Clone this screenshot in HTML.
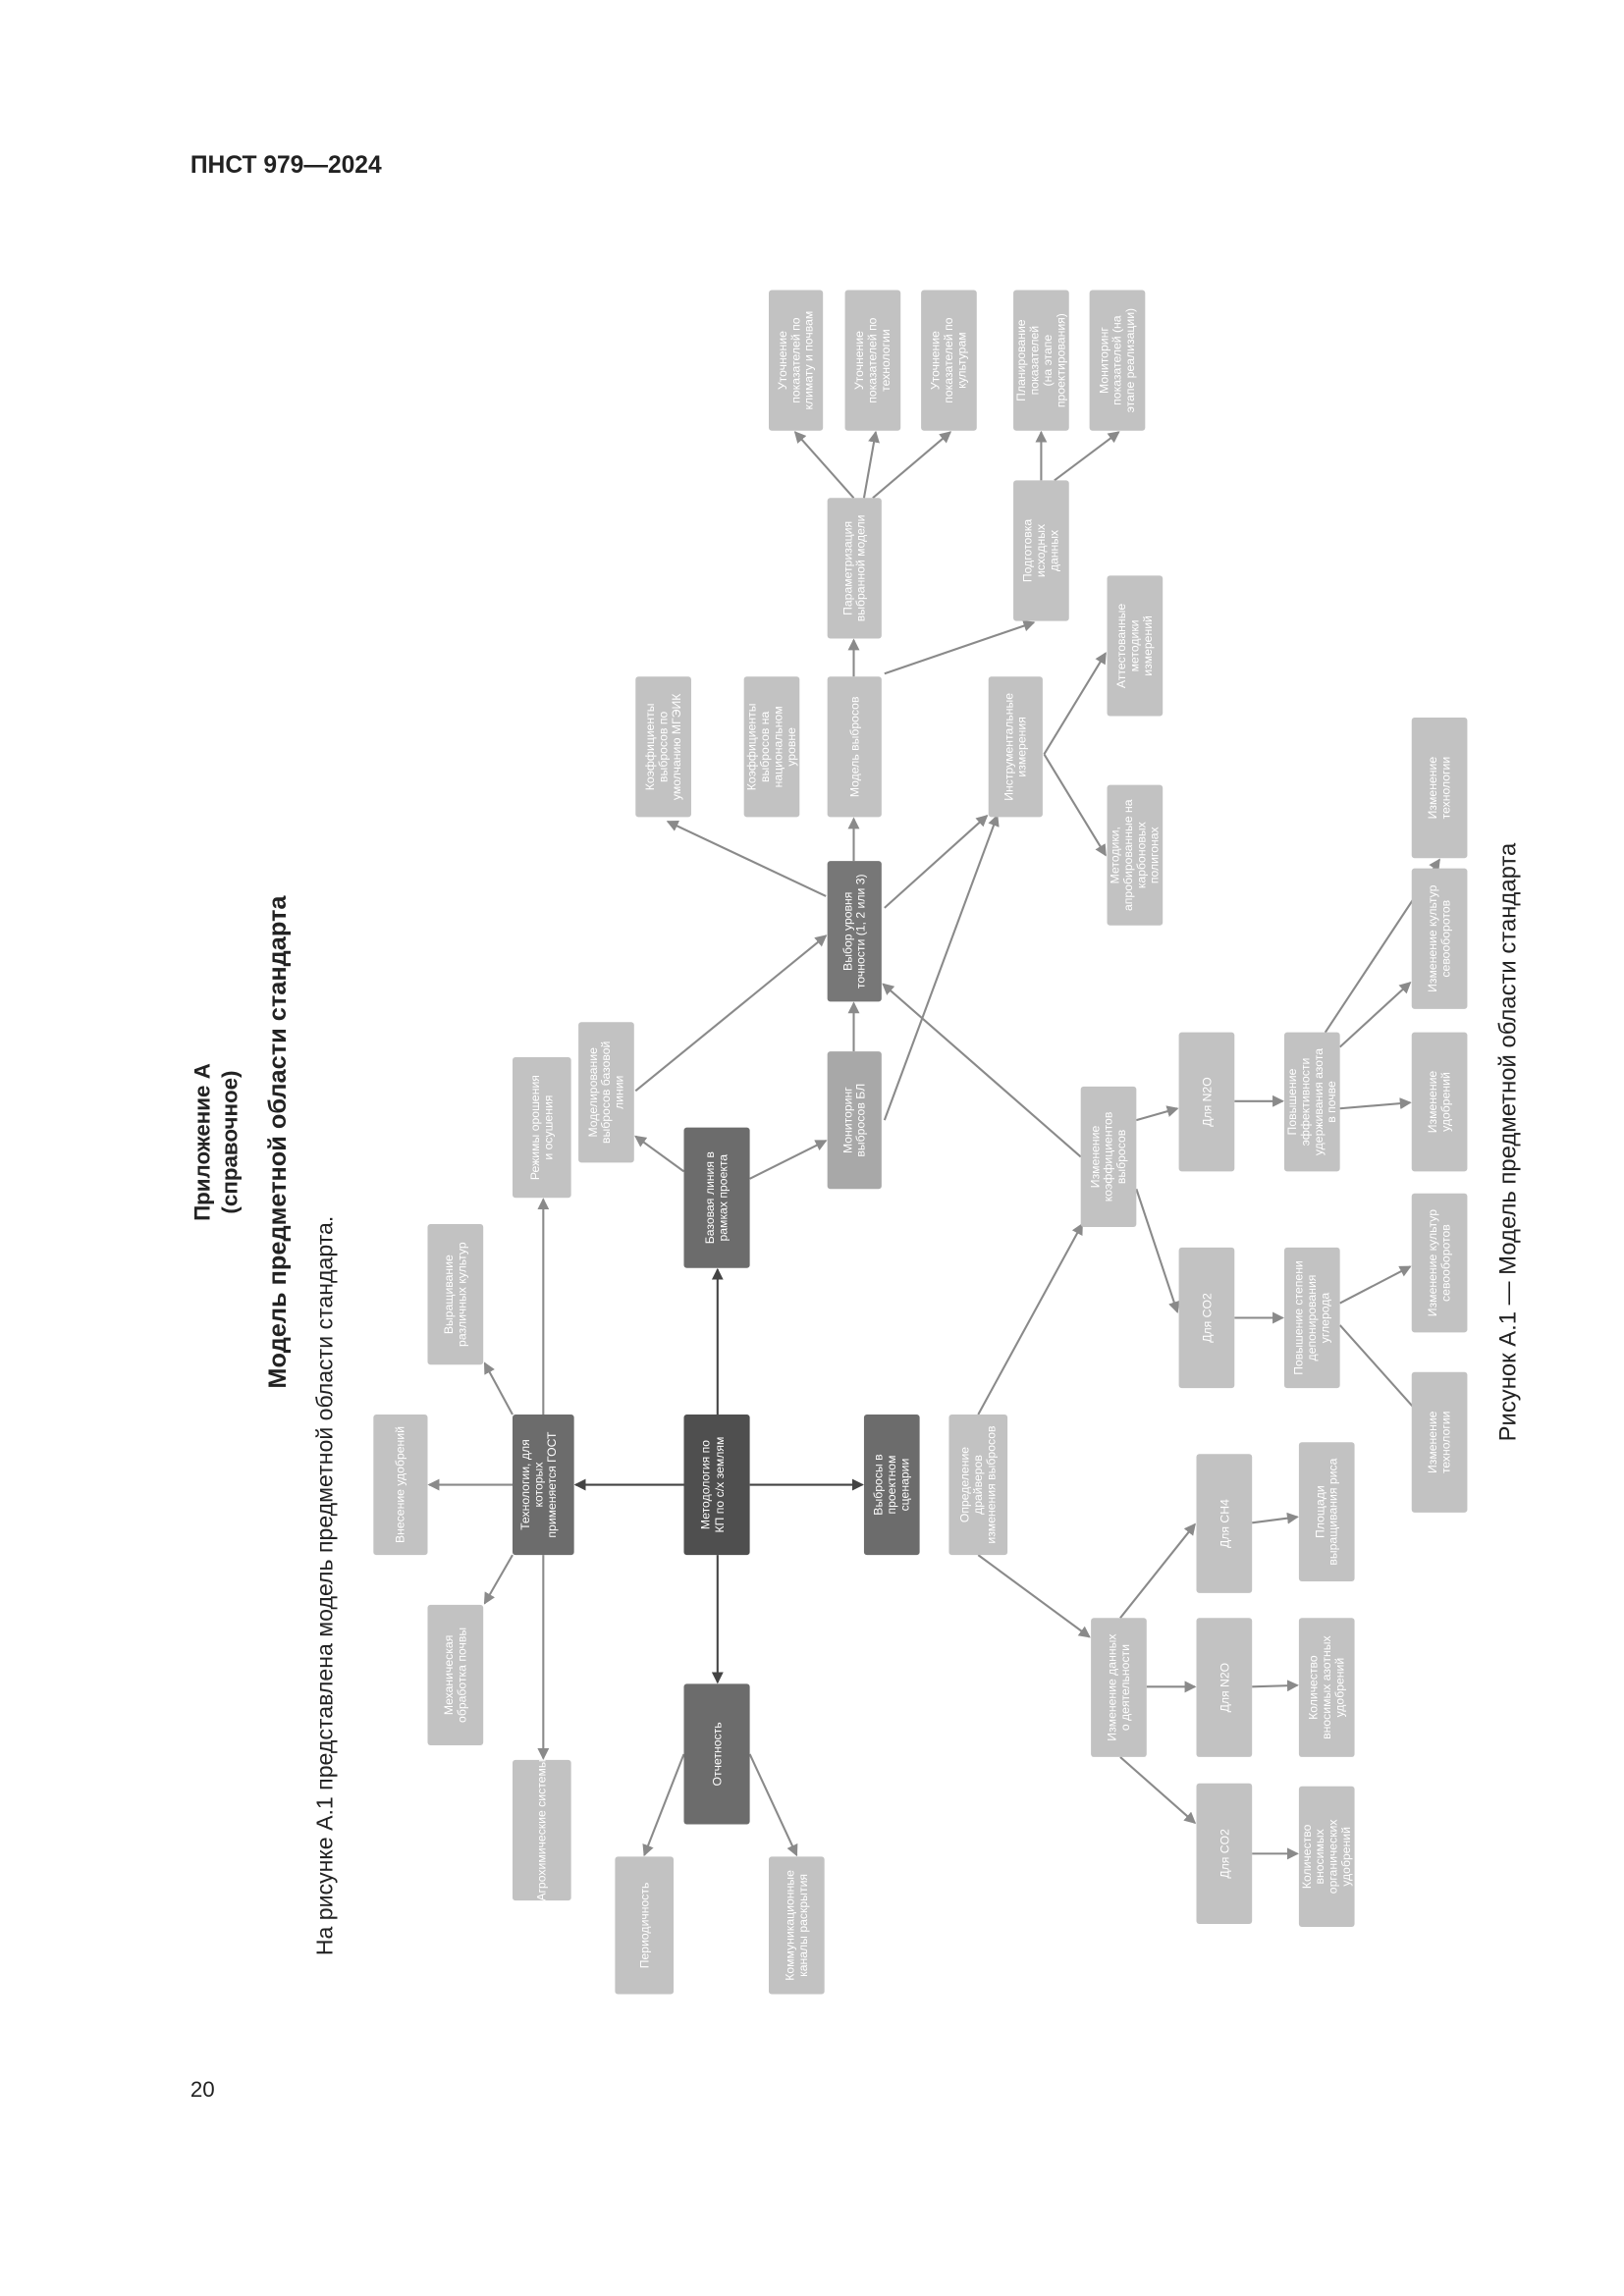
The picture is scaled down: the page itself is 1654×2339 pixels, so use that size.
<!DOCTYPE html>
<html><head><meta charset="utf-8"><style>
html,body{margin:0;padding:0;background:#fff}
svg{display:block}
text{font-family:"Liberation Sans",sans-serif}
.b text{fill:#fff;font-size:8.2px;text-anchor:middle}
.L{fill:#c2c2c2}.M{fill:#a8a8a8}.D{fill:#6c6c6c}.K{fill:#4f4f4f}.S{fill:#777}
.a{stroke:#8a8a8a;stroke-width:1.4;fill:none;marker-end:url(#ah)}
.d{stroke:#444;stroke-width:1.4;fill:none;marker-end:url(#ahd)}
</style></head><body>
<svg width="1654" height="2339" viewBox="0 0 1109 1568" xmlns="http://www.w3.org/2000/svg">
<defs>
<marker id="ah" markerWidth="8" markerHeight="8" refX="7" refY="4" orient="auto" markerUnits="userSpaceOnUse"><path d="M0,0 L8,4 L0,8 z" fill="#8a8a8a"/></marker>
<marker id="ahd" markerWidth="8" markerHeight="8" refX="7" refY="4" orient="auto" markerUnits="userSpaceOnUse"><path d="M0,0 L8,4 L0,8 z" fill="#444"/></marker>
</defs>
<text x="130" y="118" font-size="16.5" font-weight="bold" fill="#222">ПНСТ 979—2024</text>
<text x="130" y="1432" font-size="15" fill="#222">20</text>
<g fill="#222" text-anchor="middle">
<text transform="rotate(-90 143 780)" x="143" y="780" font-size="15" font-weight="bold">Приложение А</text>
<text transform="rotate(-90 162 780)" x="162" y="780" font-size="15" font-weight="bold">(справочное)</text>
<text transform="rotate(-90 195 780)" x="195" y="780" font-size="17" font-weight="bold">Модель предметной области стандарта</text>
<text transform="rotate(-90 227 1083)" x="227" y="1083" font-size="15.5">На рисунке А.1 представлена модель предметной области стандарта.</text>
<text transform="rotate(-90 1035 780)" x="1035" y="780" font-size="16">Рисунок А.1 — Модель предметной области стандарта</text>
</g>

<line class="d" x1="467" y1="1014" x2="393" y2="1014"/>
<line class="d" x1="512" y1="1014" x2="589" y2="1014"/>
<line class="d" x1="490" y1="966" x2="490" y2="867"/>
<line class="d" x1="490" y1="1062" x2="490" y2="1149"/>
<line class="a" x1="350" y1="1014" x2="293" y2="1014"/>
<line class="a" x1="350" y1="966" x2="331" y2="931"/>
<line class="a" x1="350" y1="1062" x2="331" y2="1095"/>
<line class="a" x1="371" y1="966" x2="371" y2="819"/>
<line class="a" x1="371" y1="1062" x2="371" y2="1201"/>
<line class="a" x1="467" y1="800" x2="434" y2="776"/>
<line class="a" x1="512" y1="805" x2="564" y2="779"/>
<line class="a" x1="434" y1="745" x2="564" y2="639"/>
<line class="a" x1="583" y1="718" x2="583" y2="685"/>
<line class="a" x1="604" y1="765" x2="681" y2="557"/>
<line class="a" x1="564" y1="612" x2="456" y2="561"/>
<line class="a" x1="583" y1="588" x2="583" y2="559"/>
<line class="a" x1="604" y1="620" x2="674" y2="557"/>
<line class="a" x1="583" y1="462" x2="583" y2="437"/>
<line class="a" x1="604" y1="460" x2="706" y2="425"/>
<line class="a" x1="583" y1="340" x2="543" y2="295"/>
<line class="a" x1="590" y1="340" x2="598" y2="295"/>
<line class="a" x1="596" y1="340" x2="649" y2="295"/>
<line class="a" x1="711" y1="328" x2="711" y2="295"/>
<line class="a" x1="720" y1="328" x2="764" y2="295"/>
<line class="a" x1="713" y1="515" x2="755" y2="446"/>
<line class="a" x1="713" y1="515" x2="755" y2="584"/>
<line class="a" x1="467" y1="1198" x2="440" y2="1267"/>
<line class="a" x1="512" y1="1198" x2="544" y2="1267"/>
<line class="a" x1="668" y1="966" x2="739" y2="836"/>
<line class="a" x1="668" y1="1062" x2="744" y2="1118"/>
<line class="a" x1="738" y1="790" x2="603" y2="672"/>
<line class="a" x1="776" y1="765" x2="804" y2="757"/>
<line class="a" x1="776" y1="812" x2="804" y2="896"/>
<line class="a" x1="843" y1="752" x2="876" y2="752"/>
<line class="a" x1="905" y1="705" x2="983" y2="587"/>
<line class="a" x1="915" y1="715" x2="963" y2="671"/>
<line class="a" x1="915" y1="757" x2="963" y2="753"/>
<line class="a" x1="843" y1="900" x2="876" y2="900"/>
<line class="a" x1="915" y1="890" x2="963" y2="865"/>
<line class="a" x1="915" y1="905" x2="983" y2="981"/>
<line class="a" x1="765" y1="1105" x2="816" y2="1041"/>
<line class="a" x1="783" y1="1152" x2="816" y2="1152"/>
<line class="a" x1="765" y1="1200" x2="816" y2="1245"/>
<line class="a" x1="855" y1="1040" x2="886" y2="1036"/>
<line class="a" x1="855" y1="1152" x2="886" y2="1151"/>
<line class="a" x1="855" y1="1266" x2="886" y2="1266"/>

<g class="b">
<rect class="K" x="467" y="966" width="45" height="96" rx="2"/>
<text transform="rotate(-90 489.5 1014)" x="489.5"><tspan x="489.5" y="1009">Методология по</tspan><tspan x="489.5" y="1018.5">КП по с/х землям</tspan></text>

<rect class="D" x="350" y="966" width="42" height="96" rx="2"/>
<text transform="rotate(-90 371 1014)" x="371"><tspan x="371" y="1004.5">Технологии, для</tspan><tspan x="371" y="1013.5">которых</tspan><tspan x="371" y="1022.5">применяется ГОСТ</tspan></text>

<rect class="L" x="255" y="966" width="37" height="96" rx="2"/>
<text transform="rotate(-90 273.5 1014)"><tspan x="273.5" y="1016.5">Внесение удобрений</tspan></text>

<rect class="L" x="292" y="836" width="38" height="96" rx="2"/>
<text transform="rotate(-90 311 884)"><tspan x="311" y="882">Выращивание</tspan><tspan x="311" y="891">различных культур</tspan></text>

<rect class="L" x="292" y="1096" width="38" height="96" rx="2"/>
<text transform="rotate(-90 311 1144)"><tspan x="311" y="1142">Механическая</tspan><tspan x="311" y="1151">обработка почвы</tspan></text>

<rect class="L" x="350" y="722" width="40" height="96" rx="2"/>
<text transform="rotate(-90 370 770)"><tspan x="370" y="768">Режимы орошения</tspan><tspan x="370" y="777">и осушения</tspan></text>

<rect class="L" x="350" y="1202" width="40" height="96" rx="2"/>
<text transform="rotate(-90 370 1250)"><tspan x="370" y="1252.5">Агрохимические системы</tspan></text>

<rect class="D" x="467" y="770" width="45" height="96" rx="2"/>
<text transform="rotate(-90 489.5 818)"><tspan x="489.5" y="816">Базовая линия в</tspan><tspan x="489.5" y="825">рамках проекта</tspan></text>

<rect class="L" x="395" y="698" width="38" height="96" rx="2"/>
<text transform="rotate(-90 414 746)"><tspan x="414" y="739.5">Моделирование</tspan><tspan x="414" y="748.5">выбросов базовой</tspan><tspan x="414" y="757.5">линии</tspan></text>

<rect class="D" x="467" y="1150" width="45" height="96" rx="2"/>
<text transform="rotate(-90 489.5 1198)"><tspan x="489.5" y="1201">Отчетность</tspan></text>

<rect class="L" x="420" y="1268" width="40" height="94" rx="2"/>
<text transform="rotate(-90 440 1315)"><tspan x="440" y="1318">Периодичность</tspan></text>

<rect class="L" x="525" y="1268" width="38" height="94" rx="2"/>
<text transform="rotate(-90 544 1315)"><tspan x="544" y="1313">Коммуникационные</tspan><tspan x="544" y="1322">каналы раскрытия</tspan></text>

<rect class="D" x="590" y="966" width="38" height="96" rx="2"/>
<text transform="rotate(-90 609 1014)"><tspan x="609" y="1007.5">Выбросы в</tspan><tspan x="609" y="1016.5">проектном</tspan><tspan x="609" y="1025.5">сценарии</tspan></text>

<rect class="L" x="648" y="966" width="40" height="96" rx="2"/>
<text transform="rotate(-90 668 1014)"><tspan x="668" y="1007.5">Определение</tspan><tspan x="668" y="1016.5">драйверов</tspan><tspan x="668" y="1025.5">изменения выбросов</tspan></text>

<rect class="M" x="565" y="718" width="37" height="94" rx="2"/>
<text transform="rotate(-90 583.5 765)"><tspan x="583.5" y="763">Мониторинг</tspan><tspan x="583.5" y="772">выбросов БЛ</tspan></text>

<rect class="S" x="565" y="588" width="37" height="96" rx="2"/>
<text transform="rotate(-90 583.5 636)"><tspan x="583.5" y="634">Выбор уровня</tspan><tspan x="583.5" y="643">точности (1, 2 или 3)</tspan></text>

<rect class="L" x="565" y="462" width="37" height="96" rx="2"/>
<text transform="rotate(-90 583.5 510)"><tspan x="583.5" y="513">Модель выбросов</tspan></text>

<rect class="L" x="508" y="462" width="38" height="96" rx="2"/>
<text transform="rotate(-90 527 510)"><tspan x="527" y="499">Коэффициенты</tspan><tspan x="527" y="508">выбросов на</tspan><tspan x="527" y="517">национальном</tspan><tspan x="527" y="526">уровне</tspan></text>

<rect class="L" x="434" y="462" width="38" height="96" rx="2"/>
<text transform="rotate(-90 453 510)"><tspan x="453" y="503.5">Коэффициенты</tspan><tspan x="453" y="512.5">выбросов по</tspan><tspan x="453" y="521.5">умолчанию МГЭИК</tspan></text>

<rect class="L" x="565" y="340" width="37" height="96" rx="2"/>
<text transform="rotate(-90 583.5 388)"><tspan x="583.5" y="386">Параметризация</tspan><tspan x="583.5" y="395">выбранной модели</tspan></text>

<rect class="L" x="525" y="198" width="37" height="96" rx="2"/>
<text transform="rotate(-90 543.5 246)"><tspan x="543.5" y="239.5">Уточнение</tspan><tspan x="543.5" y="248.5">показателей по</tspan><tspan x="543.5" y="257.5">климату и почвам</tspan></text>

<rect class="L" x="577" y="198" width="38" height="96" rx="2"/>
<text transform="rotate(-90 596 246)"><tspan x="596" y="239.5">Уточнение</tspan><tspan x="596" y="248.5">показателей по</tspan><tspan x="596" y="257.5">технологии</tspan></text>

<rect class="L" x="629" y="198" width="38" height="96" rx="2"/>
<text transform="rotate(-90 648 246)"><tspan x="648" y="239.5">Уточнение</tspan><tspan x="648" y="248.5">показателей по</tspan><tspan x="648" y="257.5">культурам</tspan></text>

<rect class="L" x="675" y="462" width="37" height="96" rx="2"/>
<text transform="rotate(-90 693.5 510)"><tspan x="693.5" y="508">Инструментальные</tspan><tspan x="693.5" y="517">измерения</tspan></text>

<rect class="L" x="692" y="328" width="38" height="96" rx="2"/>
<text transform="rotate(-90 711 376)"><tspan x="711" y="369.5">Подготовка</tspan><tspan x="711" y="378.5">исходных</tspan><tspan x="711" y="387.5">данных</tspan></text>

<rect class="L" x="692" y="198" width="38" height="96" rx="2"/>
<text transform="rotate(-90 711 246)"><tspan x="711" y="235">Планирование</tspan><tspan x="711" y="244">показателей</tspan><tspan x="711" y="253">(на этапе</tspan><tspan x="711" y="262">проектирования)</tspan></text>

<rect class="L" x="744" y="198" width="38" height="96" rx="2"/>
<text transform="rotate(-90 763 246)"><tspan x="763" y="239.5">Мониторинг</tspan><tspan x="763" y="248.5">показателей (на</tspan><tspan x="763" y="257.5">этапе реализации)</tspan></text>

<rect class="L" x="756" y="393" width="38" height="96" rx="2"/>
<text transform="rotate(-90 775 441)"><tspan x="775" y="434.5">Аттестованные</tspan><tspan x="775" y="443.5">методики</tspan><tspan x="775" y="452.5">измерений</tspan></text>

<rect class="L" x="756" y="536" width="38" height="96" rx="2"/>
<text transform="rotate(-90 775 584)"><tspan x="775" y="573">Методики,</tspan><tspan x="775" y="582">апробированные на</tspan><tspan x="775" y="591">карбоновых</tspan><tspan x="775" y="600">полигонах</tspan></text>

<rect class="L" x="738" y="742" width="38" height="96" rx="2"/>
<text transform="rotate(-90 757 790)"><tspan x="757" y="783.5">Изменение</tspan><tspan x="757" y="792.5">коэффициентов</tspan><tspan x="757" y="801.5">выбросов</tspan></text>

<rect class="L" x="805" y="705" width="38" height="95" rx="2"/>
<text transform="rotate(-90 824 752.5)"><tspan x="824" y="755.5">Для N2O</tspan></text>

<rect class="L" x="877" y="705" width="38" height="95" rx="2"/>
<text transform="rotate(-90 896 752.5)"><tspan x="896" y="741.5">Повышение</tspan><tspan x="896" y="750.5">эффективности</tspan><tspan x="896" y="759.5">удерживания азота</tspan><tspan x="896" y="768.5">в почве</tspan></text>

<rect class="L" x="964" y="490" width="38" height="96" rx="2"/>
<text transform="rotate(-90 983 538)"><tspan x="983" y="536">Изменение</tspan><tspan x="983" y="545">технологии</tspan></text>

<rect class="L" x="964" y="593" width="38" height="96" rx="2"/>
<text transform="rotate(-90 983 641)"><tspan x="983" y="639">Изменение культур</tspan><tspan x="983" y="648">севооборотов</tspan></text>

<rect class="L" x="964" y="705" width="38" height="95" rx="2"/>
<text transform="rotate(-90 983 752.5)"><tspan x="983" y="750.5">Изменение</tspan><tspan x="983" y="759.5">удобрений</tspan></text>

<rect class="L" x="805" y="852" width="38" height="96" rx="2"/>
<text transform="rotate(-90 824 900)"><tspan x="824" y="903">Для CO2</tspan></text>

<rect class="L" x="877" y="852" width="38" height="96" rx="2"/>
<text transform="rotate(-90 896 900)"><tspan x="896" y="893.5">Повышение степени</tspan><tspan x="896" y="902.5">депонирования</tspan><tspan x="896" y="911.5">углерода</tspan></text>

<rect class="L" x="964" y="815" width="38" height="95" rx="2"/>
<text transform="rotate(-90 983 862.5)"><tspan x="983" y="860.5">Изменение культур</tspan><tspan x="983" y="869.5">севооборотов</tspan></text>

<rect class="L" x="964" y="937" width="38" height="96" rx="2"/>
<text transform="rotate(-90 983 985)"><tspan x="983" y="983">Изменение</tspan><tspan x="983" y="992">технологии</tspan></text>

<rect class="L" x="745" y="1105" width="38" height="95" rx="2"/>
<text transform="rotate(-90 764 1152.5)"><tspan x="764" y="1150.5">Изменение данных</tspan><tspan x="764" y="1159.5">о деятельности</tspan></text>

<rect class="L" x="817" y="993" width="38" height="95" rx="2"/>
<text transform="rotate(-90 836 1040.5)"><tspan x="836" y="1043.5">Для CH4</tspan></text>

<rect class="L" x="817" y="1105" width="38" height="95" rx="2"/>
<text transform="rotate(-90 836 1152.5)"><tspan x="836" y="1155.5">Для N2O</tspan></text>

<rect class="L" x="817" y="1218" width="38" height="96" rx="2"/>
<text transform="rotate(-90 836 1266)"><tspan x="836" y="1269">Для CO2</tspan></text>

<rect class="L" x="887" y="985" width="38" height="95" rx="2"/>
<text transform="rotate(-90 906 1032.5)"><tspan x="906" y="1030.5">Площади</tspan><tspan x="906" y="1039.5">выращивания риса</tspan></text>

<rect class="L" x="887" y="1105" width="38" height="95" rx="2"/>
<text transform="rotate(-90 906 1152.5)"><tspan x="906" y="1146">Количество</tspan><tspan x="906" y="1155">вносимых азотных</tspan><tspan x="906" y="1164">удобрений</tspan></text>

<rect class="L" x="887" y="1220" width="38" height="96" rx="2"/>
<text transform="rotate(-90 906 1268)"><tspan x="906" y="1257">Количество</tspan><tspan x="906" y="1266">вносимых</tspan><tspan x="906" y="1275">органических</tspan><tspan x="906" y="1284">удобрений</tspan></text>
</g>
</svg>
</body></html>
